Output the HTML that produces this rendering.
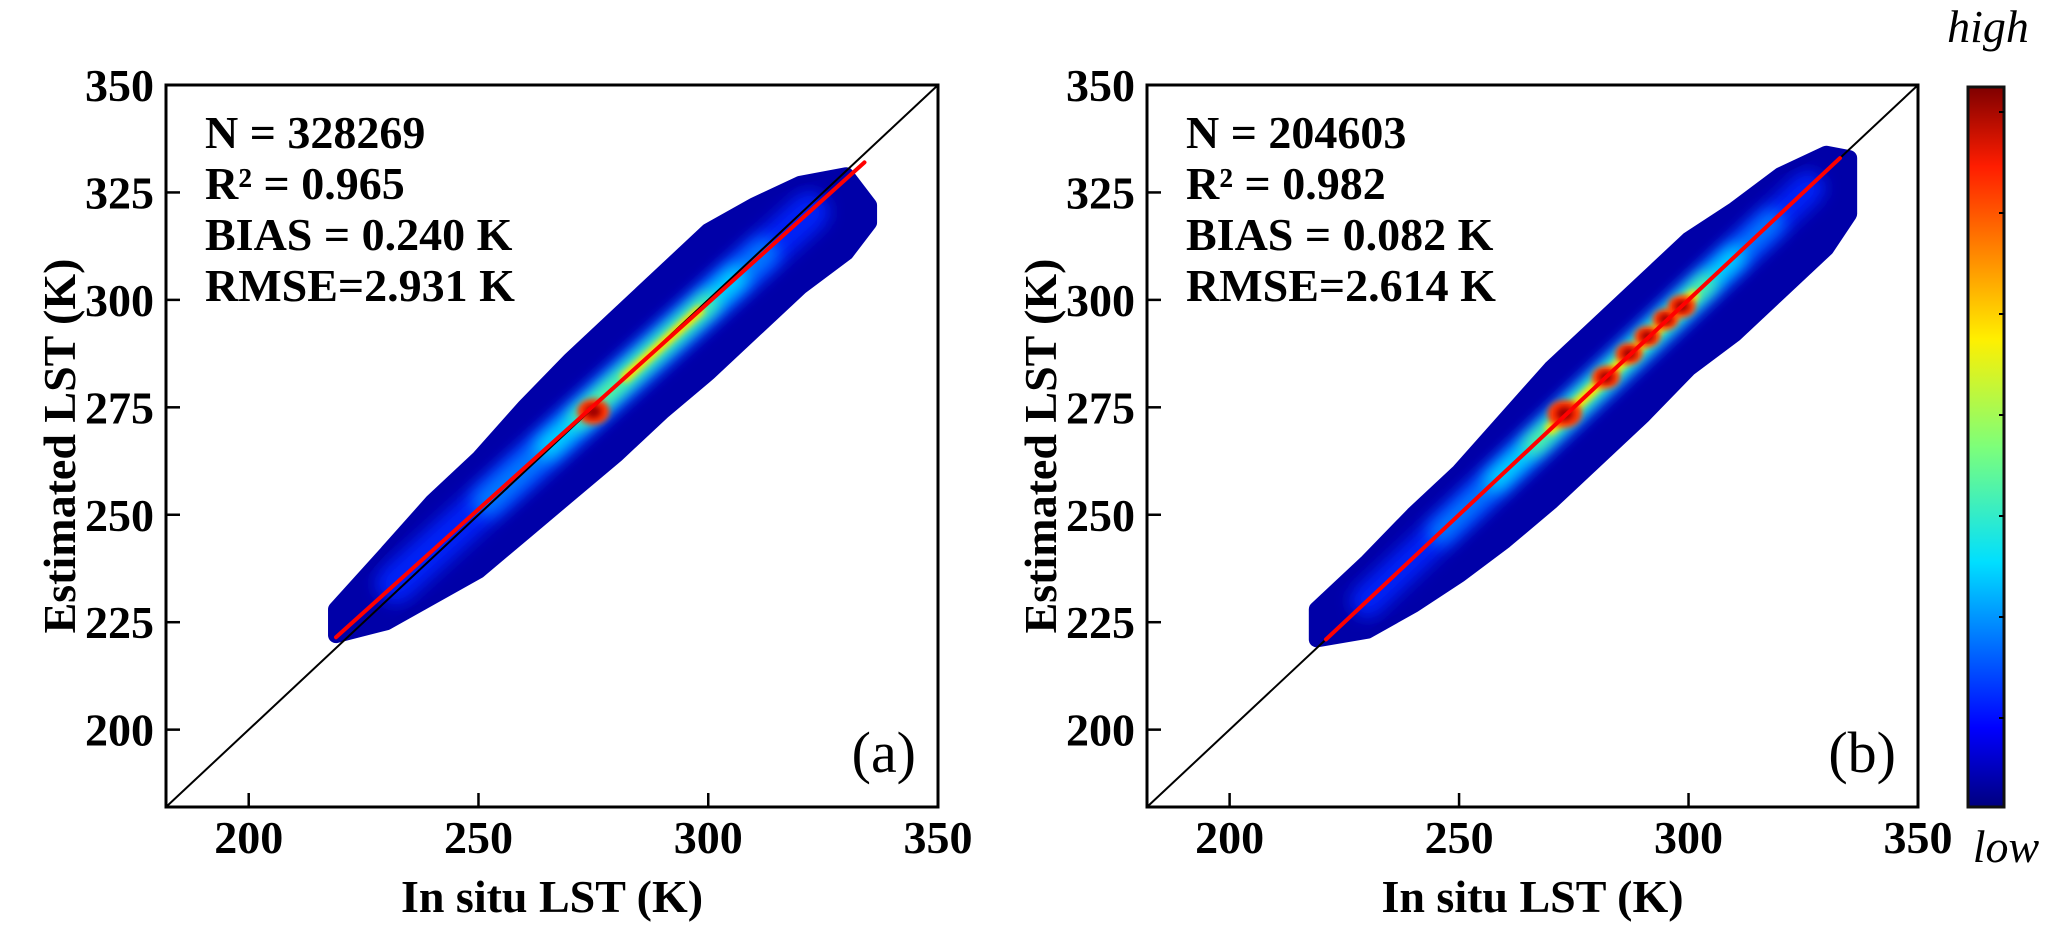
<!DOCTYPE html>
<html><head><meta charset="utf-8">
<style>
html,body{margin:0;padding:0;background:#fff;}
svg{display:block;}
text{font-family:"Liberation Serif",serif;}
</style></head>
<body>
<svg id="chart" width="2067" height="941" viewBox="0 0 2067 941" xmlns="http://www.w3.org/2000/svg">
<defs>
<filter id="blur1" x="-20%" y="-20%" width="140%" height="140%"><feGaussianBlur stdDeviation="8"/></filter>
<filter id="blur2" x="-20%" y="-20%" width="140%" height="140%"><feGaussianBlur stdDeviation="3"/></filter>
<linearGradient id="jet" x1="0" y1="1" x2="0" y2="0">
<stop offset="0" stop-color="#00007f"/><stop offset="0.11" stop-color="#0000ff"/>
<stop offset="0.34" stop-color="#00dfff"/><stop offset="0.5" stop-color="#7dff7a"/>
<stop offset="0.65" stop-color="#ffef00"/><stop offset="0.89" stop-color="#ff1d00"/>
<stop offset="1" stop-color="#7f0000"/></linearGradient>
</defs>
</svg>
<script>
// ---- data ----
const xTicks = [200, 250, 300, 350];
const yTicks = [200, 225, 250, 275, 300, 325, 350];
const panelNames = ['a', 'b'];
const statsA = ['N = 328269', 'R² = 0.965', 'BIAS = 0.240  K', 'RMSE=2.931  K'];
const statsB = ['N = 204603', 'R² = 0.982', 'BIAS = 0.082  K', 'RMSE=2.614  K'];
const fitA = [219, 221.5, 334, 332];
const fitB = [221, 221, 333, 333];
// outer envelope of scatter cloud
const envX   = [219, 230, 240, 250, 260, 270, 280, 290, 300, 310, 320, 330, 335];
const envUpA = [228, 241, 253, 263, 275, 286, 296, 306, 316, 322, 327, 329, 322];
const envLoA = [222, 225, 231, 237, 246, 255, 264, 274, 283, 293, 303, 311, 318];
const envUpB = [228, 239, 250, 260, 272, 284, 294, 304, 314, 321, 329, 334, 333];
const envLoB = [221, 223, 229, 236, 244, 253, 263, 273, 284, 292, 302, 312, 320];
// density layers: [xStart, xEnd, verticalHalfSpan(K)]
const layersA_blue = [[232,322,6.5]];
const layersA_lblue = [[252,312,5]];
const layersA_cyan = [[265,306,3.6]];
const layersA_green = [[272,300,2.6]];
const layersA_yellow = [[282,298,1.7]];
const hotA = [[275,274,3.0]];
const layersB_blue = [[230,326,5.5]];
const layersB_lblue = [[246,318,4.2]];
const layersB_cyan = [[258,310,3.3]];
const layersB_green = [[266,304,2.5]];
const layersB_yellow = [[270,301,1.9]];
const hotB = [[273,273.5,3.2],[282,282,2.6],[287,287.5,2.5],[291,291.5,2.4],[295,295.5,2.4],[298.5,298.5,2.6]];
const cbTicks = [1,2,3,4,5,6,7];

// ---- layout ----
const svg = document.getElementById('chart');
const NS = 'http://www.w3.org/2000/svg';
const panels = [{x0:166,x1:938},{x0:1147,x1:1918}];
const yTop = 85, yBot = 807, vMin = 182, vMax = 350;
function mk(tag, attrs, parent){const e=document.createElementNS(NS,tag);for(const k in attrs)e.setAttribute(k,attrs[k]);(parent||svg).appendChild(e);return e;}

function drawPanel(pi, stats, fit, up, lo, blue, lblue, cyan, green, yellow, hot){
  const P = panels[pi];
  const X = v => P.x0 + (v - vMin) * (P.x1 - P.x0) / (vMax - vMin);
  const Y = v => yBot - (v - vMin) * (yBot - yTop) / (vMax - vMin);
  const slope = (fit[3]-fit[1])/(fit[2]-fit[0]);
  const fy = x => fit[1] + slope*(x - fit[0]);
  const g = mk('g',{});
  
  
  const clip = mk('clipPath',{id:'clip'+pi},g);
  const pts = envX.map((x,i)=>X(x)+','+Y(up[i])).concat(envX.slice().reverse().map((x,i)=>X(x)+','+Y(lo[lo.length-1-i]))).join(' ');
  mk('polygon',{points:pts},clip);
  const env = mk('polygon',{points:pts,fill:'#0000a8',stroke:'#0000a8','stroke-width':16,'stroke-linejoin':'round'},g);
  
  
  const sc = mk('g',{'clip-path':`url(#clip${pi})`},g);
  const pxPerK = (yBot-yTop)/(vMax-vMin);
  function band(list, color, filt, nm){
    list.forEach(s=>{
      const w = 2*s[2]*pxPerK/Math.SQRT2;
      const l = mk('line',{x1:X(s[0]),y1:Y(fy(s[0])),x2:X(s[1]),y2:Y(fy(s[1])),stroke:color,'stroke-width':w,'stroke-linecap':'round'},sc);
      if(filt) l.setAttribute('filter', filt);
      
      
    });
  }
  band(blue,'#0020f8','url(#blur1)','density-blue');
  band(lblue,'#0078ff','url(#blur1)','density-lightblue');
  band(cyan,'#00d8ff','url(#blur1)','density-cyan');
  band(green,'#70ff80','url(#blur1)','density-green');
  band(yellow,'#ffe000','url(#blur2)','density-yellow');
  hot.forEach(h=>{
    const c1 = mk('ellipse',{cx:X(h[0]),cy:Y(h[1]),rx:h[2]*pxPerK*1.25,ry:h[2]*pxPerK,fill:'#ff3000',filter:'url(#blur2)'},sc);
    
    
    const c2 = mk('ellipse',{cx:X(h[0]),cy:Y(h[1]),rx:h[2]*pxPerK*0.6,ry:h[2]*pxPerK*0.5,fill:'#a00000',filter:'url(#blur2)'},sc);
    
    
  });
  const d = mk('line',{x1:X(vMin),y1:Y(vMin),x2:X(vMax),y2:Y(vMax),stroke:'#000','stroke-width':2},g);
  
  
  const r = mk('line',{x1:X(fit[0]),y1:Y(fit[1]),x2:X(fit[2]),y2:Y(fit[3]),stroke:'#ff0000','stroke-width':4,'stroke-linecap':'round'},g);
  
  
  const f = mk('rect',{x:P.x0,y:yTop,width:P.x1-P.x0,height:yBot-yTop,fill:'none',stroke:'#000','stroke-width':3},g);
  
  
  xTicks.forEach(t=>{
    if(t<vMax){const tk=mk('line',{x1:X(t),y1:yBot,x2:X(t),y2:yBot-14,stroke:'#000','stroke-width':2.5},g);
    }
    const tl = mk('text',{x:X(t),y:853,'text-anchor':'middle','font-size':46,'font-weight':'bold'},g);
    tl.textContent = t;
    
    
  });
  yTicks.forEach(t=>{
    if(t<vMax){const tk=mk('line',{x1:P.x0,y1:Y(t),x2:P.x0+14,y2:Y(t),stroke:'#000','stroke-width':2.5},g);
    }
    const tl = mk('text',{x:P.x0-12,y:Y(t)+16,'text-anchor':'end','font-size':46,'font-weight':'bold'},g);
    tl.textContent = t;
    
    
  });
  const xt = mk('text',{x:(P.x0+P.x1)/2,y:912,'text-anchor':'middle','font-size':46,'font-weight':'bold'},g);
  xt.textContent = 'In situ LST (K)';
  
  
  const yt = mk('text',{x:0,y:0,'text-anchor':'middle','font-size':46,'font-weight':'bold',transform:`translate(${P.x0-91},446) rotate(-90)`},g);
  yt.textContent = 'Estimated LST (K)';
  
  
  stats.forEach((s,i)=>{
    const st = mk('text',{x:P.x0+39,y:148+i*51,'font-size':46,'font-weight':'bold','xml:space':'preserve'},g);
    st.textContent = s;
    
    
  });
  const pl = mk('text',{x:P.x1-22,y:772,'text-anchor':'end','font-size':58},g);
  pl.textContent = '(' + panelNames[pi] + ')';
  
  
}
drawPanel(0, statsA, fitA, envUpA, envLoA, layersA_blue, layersA_lblue, layersA_cyan, layersA_green, layersA_yellow, hotA);
drawPanel(1, statsB, fitB, envUpB, envLoB, layersB_blue, layersB_lblue, layersB_cyan, layersB_green, layersB_yellow, hotB);

const cb = mk('g',{});


const cr = mk('rect',{x:1968,y:87,width:36,height:720,fill:'url(#jet)',stroke:'#111','stroke-width':3},cb);


cbTicks.forEach(t=>{
  const tk = mk('line',{x1:2004,y1:807-t*101+12,x2:1999,y2:807-t*101+12,stroke:'#000','stroke-width':2},cb);
  
  
});
const hi = mk('text',{x:1988,y:42,'text-anchor':'middle','font-size':46,'font-style':'italic'},cb);
hi.textContent='high';


const lo = mk('text',{x:2006,y:862,'text-anchor':'middle','font-size':46,'font-style':'italic'},cb);
lo.textContent='low';


</script>
</body></html>
